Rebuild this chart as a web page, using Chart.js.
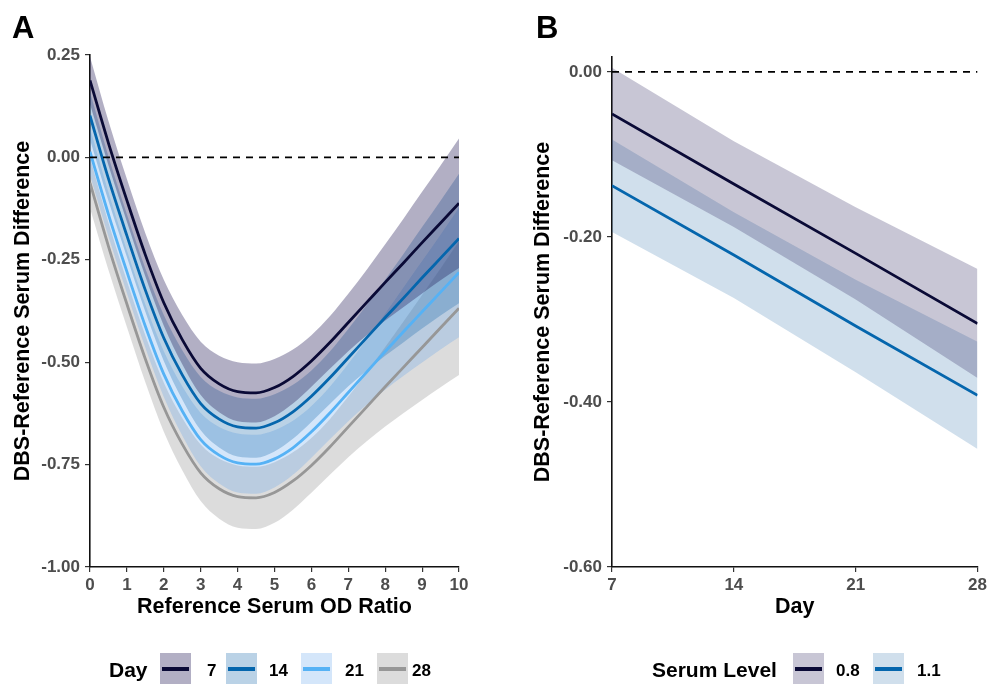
<!DOCTYPE html>
<html>
<head>
<meta charset="utf-8">
<script src="https://cdn.jsdelivr.net/npm/chart.js@4.4.0/dist/chart.umd.min.js"></script>
<style>
  body { margin: 0; background: #fff; font-family: "Liberation Sans", Arial, sans-serif; }
  #wrap { position: relative; width: 990px; height: 684px; overflow: hidden; }
  .panel { position: absolute; top: 0; }
  .tag { position: absolute; top: 12px; font-weight: bold; font-size: 31px; line-height: 31px; }
  .lgt { position: absolute; top: 654px; line-height: 32px; font-weight: bold; font-size: 21px; white-space: nowrap; }
  .lgl { position: absolute; top: 655px; line-height: 32px; font-weight: bold; font-size: 17px; white-space: nowrap; }
  .key { position: absolute; top: 653px; width: 31px; height: 32px; }
  .key i { position: absolute; left: 2px; right: 2px; top: 14px; height: 4px; }
</style>
</head>
<body>
<div id="wrap">
  <canvas id="chartA" class="panel" style="left:0" width="495" height="684"></canvas>
  <canvas id="chartB" class="panel" style="left:495px" width="495" height="684"></canvas>
  <div class="tag" style="left:12px">A</div>
  <div class="tag" style="left:536px">B</div>
  <div id="legendA"></div>
  <div id="legendB"></div>
</div>
<script>
// panel A: fitted difference vs reference serum OD ratio, by day
const odRatio = [0, 0.5, 1, 1.5, 2, 2.5, 3, 3.5, 4, 4.5, 5, 5.5, 6, 6.5, 7, 7.5, 8, 8.5, 9, 9.5, 10];

const day7Fit = [0.188, 0.035, -0.105, -0.238, -0.355, -0.445, -0.515, -0.553, -0.572, -0.575, -0.562, -0.535, -0.497, -0.452, -0.403, -0.354, -0.305, -0.257, -0.208, -0.160, -0.112];
const day7Lo  = [0.130, -0.019, -0.157, -0.291, -0.411, -0.505, -0.580, -0.622, -0.644, -0.647, -0.632, -0.601, -0.560, -0.516, -0.473, -0.434, -0.398, -0.365, -0.332, -0.300, -0.270];
const day7Hi  = [0.246, 0.089, -0.053, -0.185, -0.299, -0.385, -0.450, -0.484, -0.500, -0.503, -0.492, -0.469, -0.434, -0.388, -0.333, -0.274, -0.212, -0.149, -0.084, -0.020, 0.046];

const day14Fit = [0.102, -0.052, -0.191, -0.324, -0.441, -0.531, -0.601, -0.639, -0.658, -0.661, -0.648, -0.621, -0.583, -0.538, -0.489, -0.440, -0.391, -0.343, -0.294, -0.246, -0.198];
const day14Lo  = [0.044, -0.106, -0.243, -0.377, -0.497, -0.591, -0.666, -0.708, -0.730, -0.733, -0.718, -0.687, -0.646, -0.602, -0.559, -0.520, -0.484, -0.451, -0.418, -0.386, -0.356];
const day14Hi  = [0.160, 0.002, -0.139, -0.271, -0.385, -0.471, -0.536, -0.570, -0.586, -0.589, -0.578, -0.555, -0.520, -0.474, -0.419, -0.360, -0.298, -0.235, -0.170, -0.106, -0.040];

const day21Fit = [0.014, -0.139, -0.279, -0.412, -0.529, -0.619, -0.689, -0.727, -0.746, -0.749, -0.736, -0.709, -0.670, -0.624, -0.574, -0.524, -0.474, -0.425, -0.377, -0.329, -0.281];
const day21Lo  = [-0.044, -0.193, -0.331, -0.465, -0.585, -0.679, -0.754, -0.796, -0.818, -0.821, -0.806, -0.775, -0.733, -0.688, -0.644, -0.604, -0.567, -0.533, -0.501, -0.469, -0.439];
const day21Hi  = [0.072, -0.085, -0.227, -0.359, -0.473, -0.559, -0.624, -0.658, -0.674, -0.677, -0.666, -0.643, -0.607, -0.560, -0.504, -0.444, -0.381, -0.317, -0.253, -0.189, -0.123];

const day28Fit = [-0.062, -0.217, -0.358, -0.492, -0.610, -0.700, -0.770, -0.809, -0.828, -0.831, -0.818, -0.790, -0.752, -0.707, -0.658, -0.609, -0.560, -0.512, -0.464, -0.416, -0.368];
const day28Lo  = [-0.124, -0.275, -0.414, -0.549, -0.670, -0.764, -0.839, -0.882, -0.904, -0.907, -0.892, -0.860, -0.819, -0.775, -0.732, -0.693, -0.657, -0.624, -0.592, -0.561, -0.531];
const day28Hi  = [0.000, -0.159, -0.302, -0.435, -0.550, -0.636, -0.701, -0.736, -0.752, -0.755, -0.744, -0.720, -0.685, -0.639, -0.584, -0.525, -0.463, -0.400, -0.336, -0.271, -0.205];

const dayLabels = ['7', '14', '21', '28'];
const xTicksA = [0, 1, 2, 3, 4, 5, 6, 7, 8, 9, 10];
const yTicksA = [-1.0, -0.75, -0.5, -0.25, 0, 0.25];

// panel B: fitted difference vs day, by serum level
const serumDays = [7, 14, 21, 28];
const serumLabels = ['0.8', '1.1'];
const serum08Fit = [-0.051, -0.136, -0.220, -0.305];
const serum08Lo  = [-0.107, -0.188, -0.276, -0.371];
const serum08Hi  = [0.005, -0.084, -0.164, -0.239];
const serum11Fit = [-0.138, -0.222, -0.308, -0.392];
const serum11Lo  = [-0.194, -0.274, -0.364, -0.457];
const serum11Hi  = [-0.082, -0.170, -0.252, -0.327];
const xTicksB = [7, 14, 21, 28];
const yTicksB = [-0.6, -0.4, -0.2, 0];

const FONT = '"Liberation Sans", Arial, sans-serif';
const lineColA = ['#0a0a36', '#0566ad', '#56b2f5', '#979797'];
const bandColA = ['rgba(35,26,87,0.35)', 'rgba(25,105,172,0.30)', 'rgba(83,155,235,0.25)', 'rgba(138,138,138,0.30)'];
const lineColB = ['#0a0a36', '#0566ad'];
const bandColB = ['rgba(35,26,87,0.25)', 'rgba(20,95,160,0.20)'];

function pts(xs, ys) {
  return xs.map((x, i) => ({ x: x, y: ys[i] }));
}

function fitLine(xs, ys, color, curve) {
  return {
    data: pts(xs, ys), borderColor: color, borderWidth: 2.8, pointRadius: 0,
    fill: false, cubicInterpolationMode: curve ? 'monotone' : 'default', tension: 0, order: 1
  };
}

function bandPair(xs, lo, hi, color, curve) {
  const base = { pointRadius: 0, borderWidth: 0, borderColor: 'rgba(0,0,0,0)', order: 2,
                 cubicInterpolationMode: curve ? 'monotone' : 'default', tension: 0 };
  return [
    Object.assign({ data: pts(xs, lo), fill: false }, base),
    Object.assign({ data: pts(xs, hi), fill: '-1', backgroundColor: color }, base)
  ];
}

function zeroLine(x0, x1) {
  return { data: [{ x: x0, y: 0 }, { x: x1, y: 0 }], borderColor: '#000', borderWidth: 1.6,
           borderDash: [7, 6], pointRadius: 0, fill: false, order: 0 };
}

function axisOpts(min, max, ticks, title, fitSize, horizontal, titlePad) {
  return {
    type: 'linear', min: min, max: max,
    afterBuildTicks: s => { s.ticks = ticks.map(v => ({ value: v })); },
    afterFit: s => { if (horizontal) s.height = fitSize; else s.width = fitSize; },
    border: { display: true, color: '#111', width: 1.6 },
    grid: { display: true, drawOnChartArea: false, drawTicks: true, tickLength: 5, color: '#333', lineWidth: 1.2 },
    ticks: {
      color: '#4d4d4d', font: { family: FONT, size: 17, weight: 'bold' },
      padding: horizontal ? 3 : 5, maxRotation: 0, autoSkip: false,
      callback: v => horizontal ? String(v) : v.toFixed(2)
    },
    title: { display: true, text: title, color: '#000', font: { family: FONT, size: 21.5, weight: 'bold' }, padding: titlePad }
  };
}

function baseOpts(pad, xAxis, yAxis) {
  return {
    responsive: false, animation: false,
    layout: { padding: pad },
    plugins: { legend: { display: false }, tooltip: { enabled: false }, filler: { drawTime: 'beforeDatasetsDraw' } },
    scales: { x: xAxis, y: yAxis }
  };
}

// panel A
const dsA = [zeroLine(0, 10)];
const fitsA = [day7Fit, day14Fit, day21Fit, day28Fit];
const losA = [day7Lo, day14Lo, day21Lo, day28Lo];
const hisA = [day7Hi, day14Hi, day21Hi, day28Hi];
fitsA.forEach((f, i) => dsA.push(fitLine(odRatio, f, lineColA[i], true)));
fitsA.forEach((f, i) => dsA.push(...bandPair(odRatio, losA[i], hisA[i], bandColA[i], true)));

new Chart(document.getElementById('chartA'), {
  type: 'line',
  data: { datasets: dsA },
  options: baseOpts({ left: 0, right: 36, top: 55, bottom: 57 },
    axisOpts(0, 10, xTicksA, 'Reference Serum OD Ratio', 60, true, { top: 0, bottom: 7 }),
    axisOpts(-1, 0.25, yTicksA, 'DBS-Reference Serum Difference', 90, false, { top: 10, bottom: 0 }))
});

// panel B
const dsB = [zeroLine(7, 28),
  fitLine(serumDays, serum08Fit, lineColB[0], false),
  fitLine(serumDays, serum11Fit, lineColB[1], false),
  ...bandPair(serumDays, serum08Lo, serum08Hi, bandColB[0], false),
  ...bandPair(serumDays, serum11Lo, serum11Hi, bandColB[1], false)];

new Chart(document.getElementById('chartB'), {
  type: 'line',
  data: { datasets: dsB },
  options: baseOpts({ left: 25, right: 9, top: 57, bottom: 57 },
    axisOpts(7, 28, xTicksB, 'Day', 60, true, { top: 0, bottom: 7 }),
    axisOpts(-0.6, 0.018, yTicksB, 'DBS-Reference Serum Difference', 92, false, { top: 10, bottom: 0 }))
});

// legends in ggplot style: title, then keys with band fill and line
function buildLegend(el, title, titleX, items) {
  let html = '<span class="lgt" style="left:' + titleX + 'px">' + title + '</span>';
  items.forEach(it => {
    html += '<div class="key" style="left:' + it.keyX + 'px;background:' + it.band + '"><i style="background:' + it.line + '"></i></div>';
    html += '<span class="lgl" style="left:' + it.textX + 'px">' + it.label + '</span>';
  });
  el.innerHTML = html;
}

const keyXA = [160, 226, 301, 377];
const textXA = [207, 269, 345, 412];
buildLegend(document.getElementById('legendA'), 'Day', 109,
  dayLabels.map((d, i) => ({ label: d, keyX: keyXA[i], textX: textXA[i], band: bandColA[i], line: lineColA[i] })));

const keyXB = [793, 873];
const textXB = [836, 917];
buildLegend(document.getElementById('legendB'), 'Serum Level', 652,
  serumLabels.map((d, i) => ({ label: d, keyX: keyXB[i], textX: textXB[i], band: bandColB[i], line: lineColB[i] })));
</script>
</body>
</html>
